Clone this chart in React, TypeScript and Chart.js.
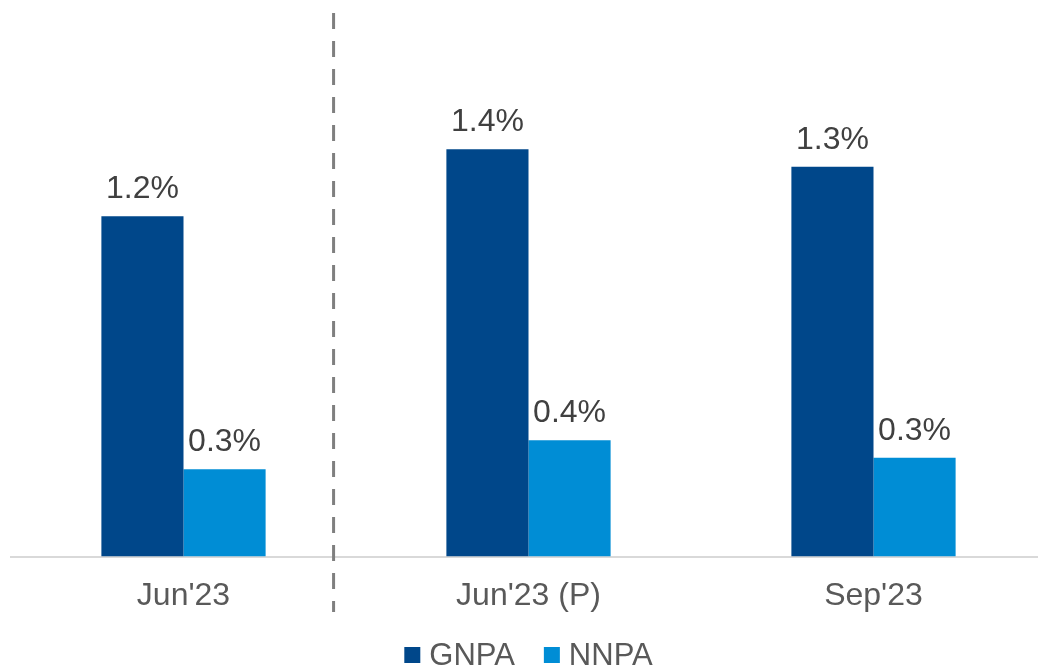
import React, { useEffect, useRef } from "react";
import { Chart, registerables } from "chart.js";

Chart.register(...registerables);

const categories = ["Jun'23", "Jun'23 (P)", "Sep'23"];
const gnpa = [1.17, 1.4, 1.34];
const nnpa = [0.3, 0.4, 0.34];
const gnpaLabels = ["1.2%", "1.4%", "1.3%"];
const nnpaLabels = ["0.3%", "0.4%", "0.3%"];
const seriesNames = ["GNPA", "NNPA"];
const seriesColors = ["#00478A", "#008DD5"];

const FONT = "Arial, 'Liberation Sans', sans-serif";

const labelPlugin = {
  id: "barLabels",
  afterDatasetsDraw(chart: any) {
    const ctx = chart.ctx;
    ctx.save();
    ctx.font = `32px ${FONT}`;
    ctx.fillStyle = "#404040";
    ctx.textAlign = "center";
    ctx.textBaseline = "alphabetic";
    const lbls = [gnpaLabels, nnpaLabels];
    chart.data.datasets.forEach((ds: any, di: number) => {
      const meta = chart.getDatasetMeta(di);
      meta.data.forEach((bar: any, i: number) => {
        ctx.fillText(lbls[di][i], bar.x, bar.y - 18);
      });
    });
    ctx.restore();
  },
};

const dividerPlugin = {
  id: "divider",
  afterDraw(chart: any) {
    const xs = chart.scales.x;
    const p0 = xs.getPixelForValue(0);
    const p1 = xs.getPixelForValue(1);
    const x = p0 + (p1 - p0) * 0.435;
    const ctx = chart.ctx;
    ctx.save();
    ctx.strokeStyle = "#7f7f7f";
    ctx.lineWidth = 3;
    ctx.setLineDash([16, 12]);
    ctx.beginPath();
    ctx.moveTo(x, 13);
    ctx.lineTo(x, 612);
    ctx.stroke();
    ctx.restore();
  },
};

const legendPlugin = {
  id: "customLegend",
  afterDraw(chart: any) {
    const ctx = chart.ctx;
    ctx.save();
    ctx.font = `31px ${FONT}`;
    const box = 16;
    const gap = 9;
    const spacing = 29;
    const widths = seriesNames.map((n) => ctx.measureText(n).width);
    let total = 0;
    widths.forEach((w, i) => {
      total += box + gap + w + (i < widths.length - 1 ? spacing : 0);
    });
    const ca = chart.chartArea;
    let x = (ca.left + ca.right) / 2 - total / 2;
    const cy = 655;
    ctx.textBaseline = "middle";
    ctx.textAlign = "left";
    seriesNames.forEach((n, i) => {
      ctx.fillStyle = seriesColors[i];
      ctx.fillRect(x, cy - box / 2, box, box);
      ctx.fillStyle = "#595959";
      ctx.fillText(n, x + box + gap, cy + 1);
      x += box + gap + widths[i] + spacing;
    });
    ctx.restore();
  },
};

export default function App() {
  const ref = useRef<HTMLCanvasElement>(null);
  useEffect(() => {
    if (!ref.current) return;
    const chart = new Chart(ref.current, {
      type: "bar",
      data: {
        labels: categories,
        datasets: [
          {
            label: seriesNames[0],
            data: gnpa,
            backgroundColor: seriesColors[0],
            categoryPercentage: 0.476,
            barPercentage: 1,
          },
          {
            label: seriesNames[1],
            data: nnpa,
            backgroundColor: seriesColors[1],
            categoryPercentage: 0.476,
            barPercentage: 1,
          },
        ],
      },
      options: {
        responsive: false,
        animation: false,
        layout: { padding: { left: 11, right: 0, top: 33, bottom: 33 } },
        plugins: {
          tooltip: { enabled: false },
          legend: { display: false },
        },
        scales: {
          x: {
            grid: { display: false, drawTicks: false },
            border: { display: true, color: "#d9d9d9", width: 2 },
            ticks: {
              color: "#595959",
              padding: 20,
              font: { size: 32, family: FONT },
            },
          },
          y: {
            display: false,
            min: 0,
            max: 1.8,
          },
        },
      },
      plugins: [labelPlugin, dividerPlugin, legendPlugin],
    });
    return () => chart.destroy();
  }, []);
  return (
    <div
      style={{
        position: "fixed",
        left: 0,
        top: 0,
        width: 1038,
        height: 668,
        overflow: "hidden",
        background: "#fff",
      }}
    >
      <canvas ref={ref} width={1046} height={668} style={{ display: "block" }} />
    </div>
  );
}
